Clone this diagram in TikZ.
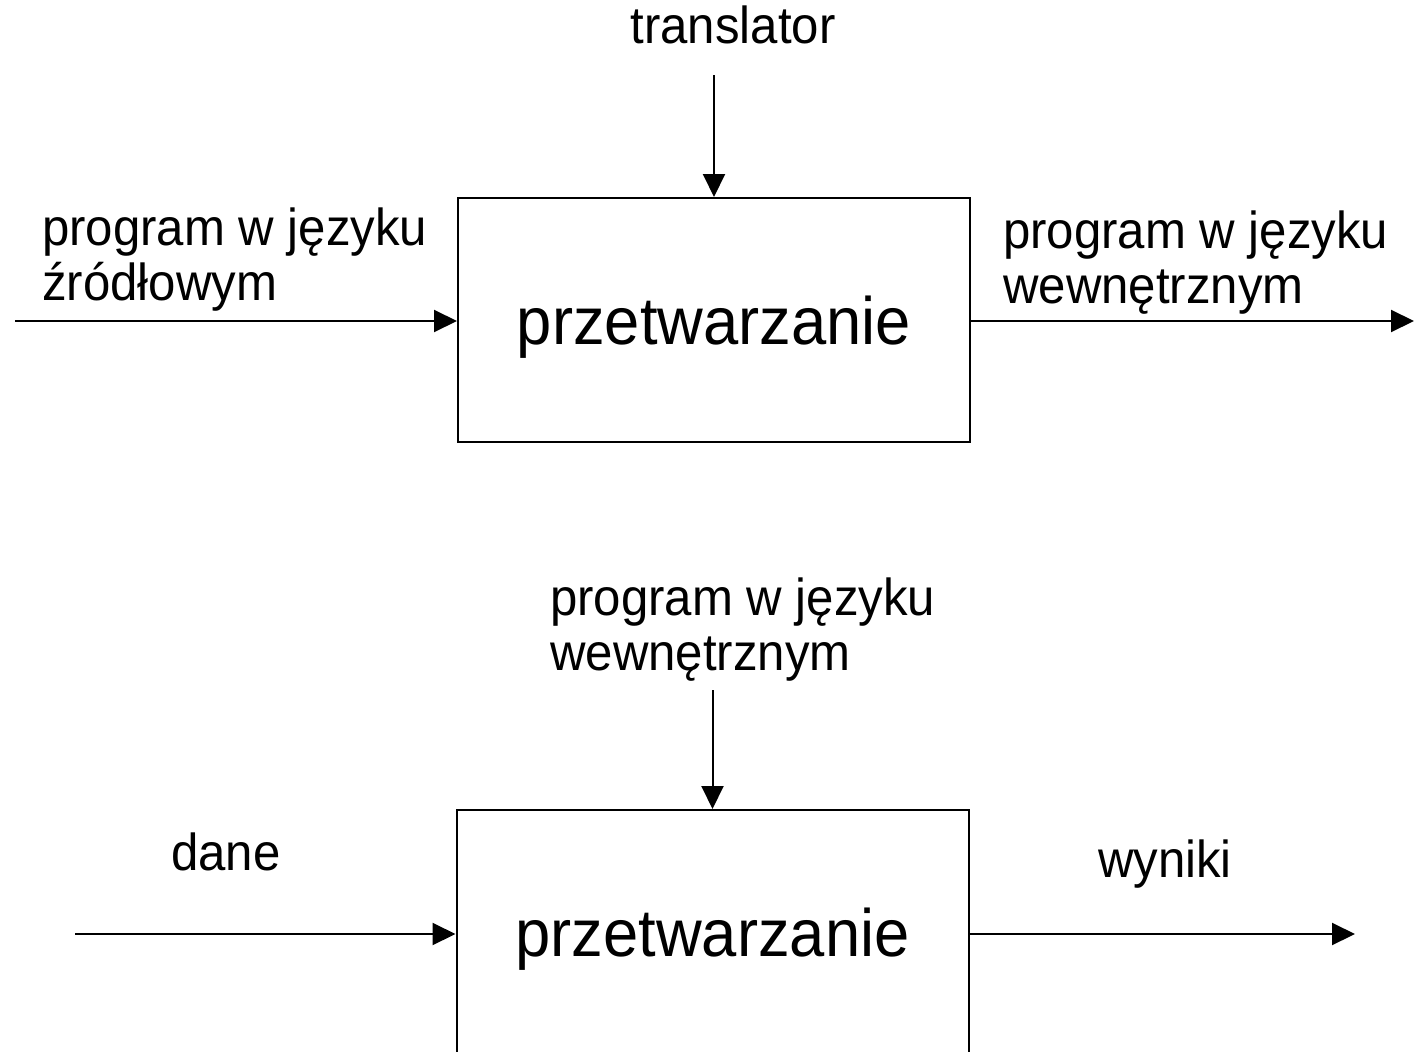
\documentclass[tikz,border=0pt]{standalone}
\usepackage{fontspec}
\setmainfont{Liberation Sans}
\newfontfamily\tallsans[FakeStretch=0.945]{Liberation Sans}
\usetikzlibrary{arrows.meta}
\tikzset{
  flow/.style={line width=2pt, -{Triangle[length=23pt,width=22pt]}},
  procbox/.style={draw, line width=2pt, minimum width=512pt, minimum height=244pt,
    inner sep=0pt, text depth=0pt, font=\tallsans\fontsize{67}{74}\selectfont},
  lbl/.style={inner sep=0pt, align=left, font=\tallsans\fontsize{52}{55}\selectfont},
}
\begin{document}
\begin{tikzpicture}[x=1pt,y=-1pt]
  \useasboundingbox (0,0) rectangle (1414,1052);

  % translation stage
  \node[procbox] (box1) at (714,320) {przetwarzanie};
  \node[lbl, anchor=base] (tr) at (733,43) {translator};
  \coordinate (tin) at (714,75);
  \coordinate (src) at (15,321);
  \coordinate (dst) at (1414,321);
  \node[lbl, anchor=base west] (srcl) at (42,300) {program w języku\\źródłowym};
  \node[lbl, anchor=base west] (dstl) at (1003,303) {program w języku\\wewnętrznym};
  \draw[flow] (tin) -- (box1.north);
  \draw[flow] (src) -- (src -| box1.west);
  \draw[flow] (dst -| box1.east) -- (dst);

  % execution stage
  \node[procbox] (box2) at (712.5,932) {przetwarzanie};
  \node[lbl, anchor=base west] (prg) at (550,670) {program w języku\\wewnętrznym};
  \coordinate (pin) at (712.5,690);
  \coordinate (din) at (75,934);
  \coordinate (dout) at (1355,934);
  \node[lbl, anchor=base] (dane) at (226,870) {dane};
  \node[lbl, anchor=base] (wyn) at (1165,877) {wyniki};
  \draw[flow] (pin) -- (box2.north);
  \draw[flow] (din) -- (din -| box2.west);
  \draw[flow] (dout -| box2.east) -- (dout);
\end{tikzpicture}
\end{document}
